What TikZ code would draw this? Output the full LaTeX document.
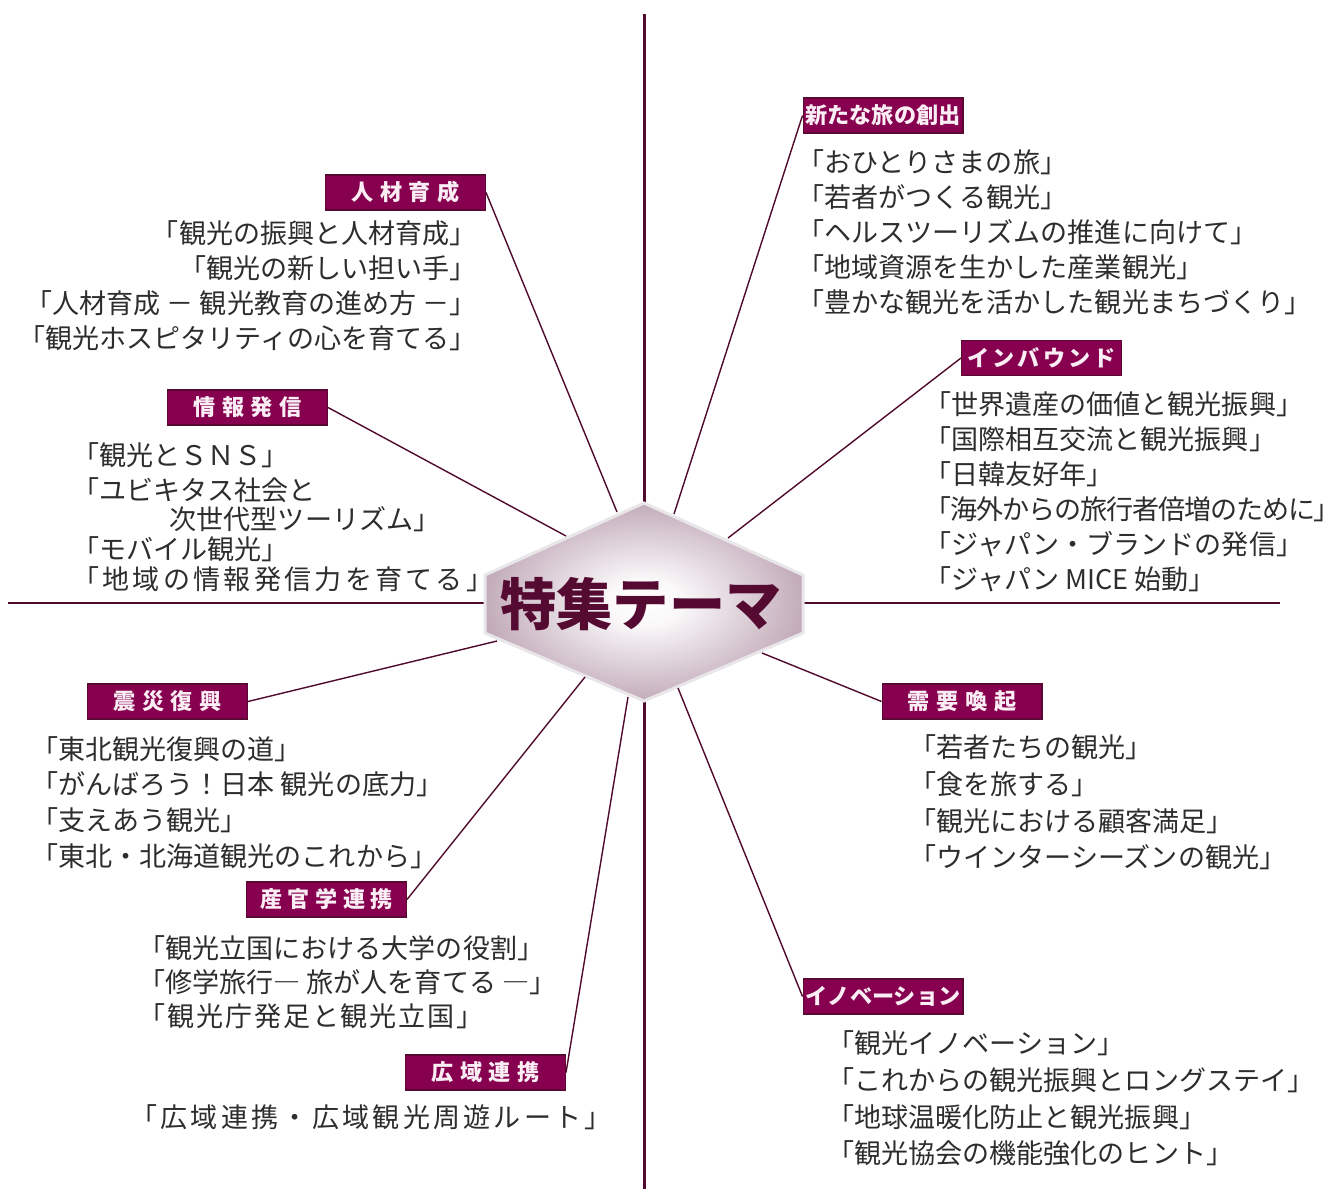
\documentclass[tikz,border=0pt]{standalone}
\usepackage{fontspec}
\setmainfont{Noto Sans CJK JP}
\usepackage{tikz}

\definecolor{axis}{RGB}{80,10,45}
\definecolor{boxfill}{RGB}{135,0,80}
\definecolor{boxline}{RGB}{90,10,50}
\definecolor{hexedge}{RGB}{122,72,104}
\definecolor{hexrim}{RGB}{232,230,232}
\definecolor{ink}{RGB}{45,45,45}
\definecolor{titleink}{RGB}{85,10,50}
\definecolor{labelink}{RGB}{250,238,244}
\pgfdeclareradialshading{hexglow}{\pgfpoint{0bp}{0bp}}{color(0bp)=(white); color(6bp)=(white!96!hexedge); color(50bp)=(hexedge)}
\newcommand\tracked[2]{{\addfontfeature{LetterSpace=#1}#2}}

\tikzset{
  theme/.style={draw=boxline, line width=0.6pt, fill=boxfill, text=labelink, minimum width=3.2cm, minimum height=0.7cm, inner sep=0pt, font=\fontsize{12.6}{14}\selectfont\bfseries},
  items/.style={text=ink, align=left, inner sep=0pt, anchor=north west, font=\fontsize{15.4}{19.9}\selectfont},
  link/.style={draw=axis, line width=0.8pt}
}

\begin{document}
\begin{tikzpicture}[x=0.02cm,y=-0.02cm]
        \useasboundingbox (0,0) rectangle (1344,1189);
        \draw[axis,line width=1.7pt] (644,14)--(644,1189);
        \draw[axis,line width=1.7pt] (8,603)--(1280,603);
        \shadedraw[shading=hexglow,draw=hexrim,line width=1.7pt] (644,503)--(803,575)--(803,633)--(644,701)--(485,633)--(485,575)--cycle;
        \node (hub) at (641,604) {\fontsize{32}{32}\selectfont\bfseries\color{titleink}特集テーマ};

        \coordinate (c1) at (617,512);
        \coordinate (c2) at (674,514);
        \coordinate (c3) at (728,538);
        \coordinate (c4) at (566,536);
        \coordinate (c5) at (497,641);
        \coordinate (c6) at (762,653);
        \coordinate (c7) at (585,677);
        \coordinate (c8) at (678,688);
        \coordinate (c9) at (628,697);

        \node[theme] (jinzai) at (405.5,192.5) {\tracked{30}{人材育成}};
        \node[theme] (tabi) at (883,115.5) {新たな旅の創出};
        \node[theme] (inbound) at (1041.5,358) {\tracked{14}{インバウンド}};
        \node[theme] (joho) at (247.5,407.5) {\tracked{30}{情報発信}};
        \node[theme] (shinsai) at (167.5,701.5) {\tracked{30}{震災復興}};
        \node[theme] (juyo) at (962,701.5) {\tracked{30}{需要喚起}};
        \node[theme] (sankan) at (326.5,899.5) {\tracked{25}{産官学連携}};
        \node[theme] (innov) at (883,996.5) {イノベーション};
        \node[theme] (kouiki) at (485.5,1072.5) {\tracked{30}{広域連携}};

        \draw[link] (jinzai.east)--(c1);
        \draw[link] (tabi.west)--(c2);
        \draw[link] (inbound.west)--(c3);
        \draw[link] (joho.east)--(c4);
        \draw[link] (shinsai.east)--(c5);
        \draw[link] (juyo.west)--(c6);
        \draw[link] (sankan.east)--(c7);
        \draw[link] (innov.west)--(c8);
        \draw[link] (kouiki.east)--(c9);

        \node[items,anchor=north east,align=right] (jinzaitext) at (477,220) {「観光の振興と人材育成」\\「観光の新しい担い手」\\「人材育成 － 観光教育の進め方 －」\\「観光ホスピタリティの心を育てる」};
        \node[items] (tabitext) at (797,149) {「おひとりさまの旅」\\「若者がつくる観光」\\「ヘルスツーリズムの推進に向けて」\\「地域資源を生かした産業観光」\\「豊かな観光を活かした観光まちづくり」};
        \node[items] (inboundtext) at (924,391) {「世界遺産の価値と観光振興」\\「国際相互交流と観光振興」\\「日韓友好年」\\\tracked{-4}{「海外からの旅行者倍増のために」}\hspace*{-0.6em}\\「ジャパン・ブランドの発信」\\「ジャパン MICE 始動」};
        \node[items,font=\fontsize{15.4}{17}\selectfont] (johotext) at (72,442) {「観光とＳＮＳ」\\[0.1cm]「ユビキタス社会と\\\hspace*{3.6em}次世代型ツーリズム」\\「モバイル観光」\\\tracked{12}{「地域の情報発信力を育てる」}};
        \node[items,font=\fontsize{15.4}{20.3}\selectfont] (shinsaitext) at (31,736) {「東北観光復興の道」\\「がんばろう！日本 観光の底力」\\「支えあう観光」\\「東北・北海道観光のこれから」};
        \node[items,font=\fontsize{15.4}{21}\selectfont] (juyotext) at (909,734) {「若者たちの観光」\\「食を旅する」\\「観光における顧客満足」\\「ウインターシーズンの観光」};
        \node[items,font=\fontsize{15.4}{19.5}\selectfont] (sankantext) at (138,935) {「観光立国における大学の役割」\\「修学旅行― 旅が人を育てる ―」\\\tracked{7}{「観光庁発足と観光立国」}};
        \node[items,font=\fontsize{15.4}{21}\selectfont] (innovtext) at (827,1030) {「観光イノベーション」\\「これからの観光振興とロングステイ」\\「地球温暖化防止と観光振興」\\「観光協会の機能強化のヒント」};
        \node[items] (kouikitext) at (130,1104) {\tracked{12}{「広域連携・広域観光周遊ルート」}};
    \end{tikzpicture}
\end{document}
